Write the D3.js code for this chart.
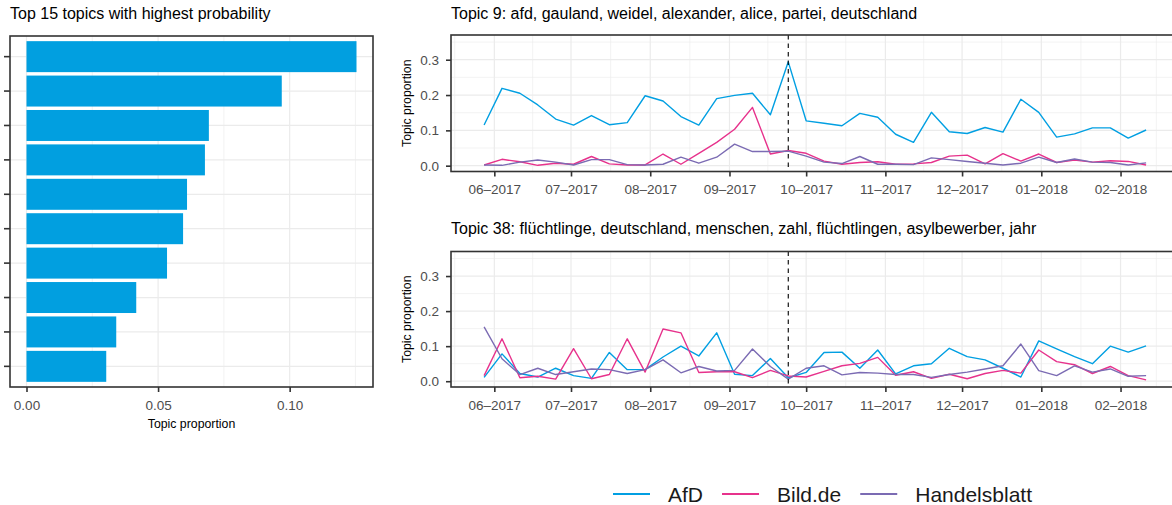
<!DOCTYPE html>
<html>
<head>
<meta charset="utf-8">
<script src="https://cdn.jsdelivr.net/npm/d3@7"></script>
<style>
  body { margin: 0; background: #fff; }
  svg { display: block; font-family: "Liberation Sans", Arial, sans-serif; }
</style>
</head>
<body>
<div id="chart"></div>
<script>
// bar chart: top topics (labels are blank in the original)
var barTopics = ["t1", "t2", "t3", "t4", "t5", "t6", "t7", "t8", "t9", "t10"];
var barValues = [0.1254, 0.0970, 0.0693, 0.0678, 0.0610, 0.0595, 0.0534, 0.0417, 0.0341, 0.0303];
var barTicks = [0, 0.05, 0.10];

// weekly dates of the time series
var weeks = ["2017-05-28","2017-06-04","2017-06-11","2017-06-18","2017-06-25","2017-07-02","2017-07-09",
  "2017-07-16","2017-07-23","2017-07-30","2017-08-06","2017-08-13","2017-08-20","2017-08-27","2017-09-03",
  "2017-09-10","2017-09-17","2017-09-24","2017-10-01","2017-10-08","2017-10-15","2017-10-22","2017-10-29",
  "2017-11-05","2017-11-12","2017-11-19","2017-11-26","2017-12-03","2017-12-10","2017-12-17","2017-12-24",
  "2017-12-31","2018-01-07","2018-01-14","2018-01-21","2018-01-28","2018-02-04","2018-02-11"];
var electionDay = "2017-09-24";

var sources = ["AfD", "Bild.de", "Handelsblatt"];
var colors = ["#019fe2", "#e7328c", "#7b6bb3"];

// Topic 9
var t9AfD = [0.115,0.219,0.205,0.172,0.132,0.115,0.142,0.116,0.122,0.198,0.183,0.139,0.115,0.190,0.199,0.205,0.144,0.294,
  0.127,0.120,0.113,0.148,0.137,0.089,0.066,0.151,0.096,0.091,0.108,0.095,0.188,0.151,0.081,0.090,0.107,0.107,0.078,0.101];
var t9Bild = [0.002,0.018,0.011,0.001,0.007,0.004,0.026,0.005,0.002,0.002,0.033,0.004,0.035,0.066,0.103,0.165,0.033,0.043,
  0.035,0.013,0.004,0.009,0.011,0.004,0.005,0.009,0.027,0.030,0.005,0.034,0.013,0.033,0.009,0.016,0.010,0.014,0.012,0.002];
var t9Handelsblatt = [0.002,0.001,0.010,0.016,0.010,0.002,0.017,0.017,0.003,0.002,0.004,0.024,0.007,0.024,0.061,0.040,0.040,0.041,
  0.027,0.010,0.006,0.026,0.004,0.004,0.003,0.022,0.017,0.012,0.007,0.002,0.007,0.024,0.009,0.019,0.010,0.009,0.002,0.008];

// Topic 38
var t38AfD = [0.011,0.078,0.022,0.012,0.037,0.016,0.008,0.082,0.033,0.033,0.069,0.100,0.072,0.138,0.020,0.016,0.065,0.010,
  0.025,0.082,0.083,0.037,0.089,0.021,0.044,0.050,0.094,0.070,0.061,0.037,0.012,0.115,0.092,0.070,0.050,0.100,0.083,0.101];
var t38Bild = [0.016,0.121,0.010,0.014,0.006,0.093,0.007,0.019,0.121,0.026,0.149,0.138,0.025,0.027,0.027,0.010,0.031,0.015,
  0.012,0.028,0.044,0.051,0.068,0.017,0.027,0.008,0.020,0.007,0.022,0.031,0.023,0.089,0.056,0.047,0.022,0.042,0.016,0.004];
var t38Handelsblatt = [0.155,0.064,0.019,0.037,0.019,0.027,0.035,0.033,0.022,0.033,0.061,0.024,0.042,0.029,0.031,0.092,0.042,0.006,
  0.037,0.044,0.018,0.025,0.023,0.019,0.019,0.011,0.019,0.026,0.035,0.044,0.106,0.030,0.016,0.044,0.026,0.035,0.014,0.016];

var panels = [
  { title: "Topic 9: afd, gauland, weidel, alexander, alice, partei, deutschland", series: [t9AfD, t9Bild, t9Handelsblatt] },
  { title: "Topic 38: flüchtlinge, deutschland, menschen, zahl, flüchtlingen, asylbewerber, jahr", series: [t38AfD, t38Bild, t38Handelsblatt] }
];
var yTicks = [0, 0.1, 0.2, 0.3];

var W = 1172, H = 505;
var grid = "#ebebeb", border = "#333333", tickText = "#4d4d4d";
var tickFont = 13.5, titleFont = 16, axisTitleFont = 12.3;

var svg = d3.select("#chart").append("svg").attr("width", W).attr("height", H);

function styleAxis(a) {
  a.select(".domain").remove();
  a.selectAll(".tick line").attr("stroke", border).attr("stroke-width", 1.6);
  a.selectAll("text").attr("fill", tickText).attr("font-size", tickFont).attr("font-family", "Liberation Sans, Arial, sans-serif");
}

// ---------- left: bar chart ----------
var bp = { left: 10, right: 373, top: 36, bottom: 387 };
var bmax = d3.max(barValues);
var bx = d3.scaleLinear().domain([-0.05 * bmax, 1.05 * bmax]).range([bp.left, bp.right]);
var by = d3.scaleBand().domain(barTopics).range([bp.top, bp.bottom]).paddingInner(0.1).paddingOuter(0.15);

svg.append("text").attr("x", 10).attr("y", 19).attr("font-size", titleFont).attr("fill", "#000")
  .text("Top 15 topics with highest probability");

var bg = svg.append("g");
var bMinor = [0.025, 0.075, 0.125];
bg.selectAll(".bminor").data(bMinor).join("line")
  .attr("x1", d => bx(d)).attr("x2", d => bx(d)).attr("y1", bp.top).attr("y2", bp.bottom)
  .attr("stroke", grid).attr("stroke-width", 0.6);
bg.selectAll(".bmaj").data(barTicks).join("line")
  .attr("x1", d => bx(d)).attr("x2", d => bx(d)).attr("y1", bp.top).attr("y2", bp.bottom)
  .attr("stroke", grid).attr("stroke-width", 1.2);
bg.selectAll(".bmajy").data(barTopics).join("line")
  .attr("x1", bp.left).attr("x2", bp.right)
  .attr("y1", d => by(d) + by.bandwidth() / 2).attr("y2", d => by(d) + by.bandwidth() / 2)
  .attr("stroke", grid).attr("stroke-width", 1.2);
bg.selectAll(".bar").data(barValues).join("rect")
  .attr("x", bx(0)).attr("y", (d, i) => by(barTopics[i]))
  .attr("width", d => bx(d) - bx(0)).attr("height", by.bandwidth())
  .attr("fill", "#019fe0");
bg.append("rect").attr("x", bp.left).attr("y", bp.top).attr("width", bp.right - bp.left).attr("height", bp.bottom - bp.top)
  .attr("fill", "none").attr("stroke", border).attr("stroke-width", 1.6);

styleAxis(bg.append("g").attr("transform", "translate(0," + bp.bottom + ")")
  .call(d3.axisBottom(bx).tickValues(barTicks).tickFormat(d3.format(".2f")).tickSize(5).tickPadding(8)));
styleAxis(bg.append("g").attr("transform", "translate(" + bp.left + ",0)")
  .call(d3.axisLeft(by).tickFormat("").tickSize(6)));
bg.append("text").attr("x", (bp.left + bp.right) / 2).attr("y", 427.5).attr("text-anchor", "middle")
  .attr("font-size", axisTitleFont).attr("fill", "#000").text("Topic proportion");

// ---------- right: time series panels ----------
var parse = d3.utcParse("%Y-%m-%d");
var dates = weeks.map(parse);
var d0 = dates[0], d1 = dates[dates.length - 1];
var span = d1 - d0;
var rp = { left: 451 };
rp.right = rp.left + 2.556 * 259 * 1.1;
var x = d3.scaleUtc().domain([new Date(+d0 - 0.05 * span), new Date(+d1 + 0.05 * span)]).range([rp.left, rp.right]);
var monthTicks = d3.utcMonth.range(d3.utcMonth.ceil(x.domain()[0]), x.domain()[1]);
var extTicks = d3.utcMonth.range(d3.utcMonth.floor(x.domain()[0]), d3.utcMonth.offset(d3.utcMonth.ceil(x.domain()[1]), 1));
var xMinor = d3.pairs(extTicks).map(p => new Date((+p[0] + +p[1]) / 2))
  .filter(d => d > x.domain()[0] && d < x.domain()[1]);
var yMinor = [0.05, 0.15, 0.25, 0.35];
var fmtMonth = d3.utcFormat("%m–%Y");

var panelBoxes = [{ top: 35, bottom: 171.5, titleY: 19 }, { top: 251.5, bottom: 387, titleY: 234 }];

panels.forEach(function(p, k) {
  var box = panelBoxes[k];
  var y = d3.scaleLinear().domain([-0.0165, 0.37]).range([box.bottom, box.top]);
  var g = svg.append("g");

  svg.append("text").attr("x", rp.left).attr("y", box.titleY).attr("font-size", titleFont).attr("fill", "#000").text(p.title);

  g.selectAll(".xminor").data(xMinor).join("line")
    .attr("x1", d => x(d)).attr("x2", d => x(d)).attr("y1", box.top).attr("y2", box.bottom)
    .attr("stroke", grid).attr("stroke-width", 0.6);
  g.selectAll(".yminor").data(yMinor).join("line")
    .attr("x1", rp.left).attr("x2", rp.right).attr("y1", d => y(d)).attr("y2", d => y(d))
    .attr("stroke", grid).attr("stroke-width", 0.6);
  g.selectAll(".xmaj").data(monthTicks).join("line")
    .attr("x1", d => x(d)).attr("x2", d => x(d)).attr("y1", box.top).attr("y2", box.bottom)
    .attr("stroke", grid).attr("stroke-width", 1.2);
  g.selectAll(".ymaj").data(yTicks).join("line")
    .attr("x1", rp.left).attr("x2", rp.right).attr("y1", d => y(d)).attr("y2", d => y(d))
    .attr("stroke", grid).attr("stroke-width", 1.2);

  var line = d3.line().x((d, i) => x(dates[i])).y(d => y(d));
  p.series.forEach(function(s, j) {
    g.append("path").datum(s).attr("fill", "none").attr("stroke", colors[j])
      .attr("stroke-width", 1.4).attr("stroke-linejoin", "round").attr("d", line);
  });

  g.append("line").attr("x1", x(parse(electionDay))).attr("x2", x(parse(electionDay)))
    .attr("y1", box.top).attr("y2", box.bottom)
    .attr("stroke", "#000").attr("stroke-width", 1.1).attr("stroke-dasharray", "4.5,4");

  g.append("rect").attr("x", rp.left).attr("y", box.top).attr("width", rp.right - rp.left).attr("height", box.bottom - box.top)
    .attr("fill", "none").attr("stroke", border).attr("stroke-width", 1.6);

  styleAxis(g.append("g").attr("transform", "translate(0," + box.bottom + ")")
    .call(d3.axisBottom(x).tickValues(monthTicks).tickFormat(fmtMonth).tickSize(5).tickPadding(8)));
  styleAxis(g.append("g").attr("transform", "translate(" + rp.left + ",0)")
    .call(d3.axisLeft(y).tickValues(yTicks).tickFormat(d3.format(".1f")).tickSize(5).tickPadding(7)));

  g.append("text").attr("transform", "translate(411," + (box.top + box.bottom) / 2 + ") rotate(-90)")
    .attr("text-anchor", "middle").attr("font-size", axisTitleFont).attr("fill", "#000").text("Topic proportion");
});

// ---------- legend ----------
var lg = svg.append("g");
var lx = 613, ly = 494;
sources.forEach(function(s, i) {
  lg.append("line").attr("x1", lx).attr("x2", lx + 37).attr("y1", ly).attr("y2", ly)
    .attr("stroke", colors[i]).attr("stroke-width", 2);
  var t = lg.append("text").attr("x", lx + 55).attr("y", ly + 7.5).attr("font-size", 21).attr("fill", "#1a1a1a").text(s);
  lx = lx + 55 + t.node().getComputedTextLength() + 19;
});
</script>
</body>
</html>
